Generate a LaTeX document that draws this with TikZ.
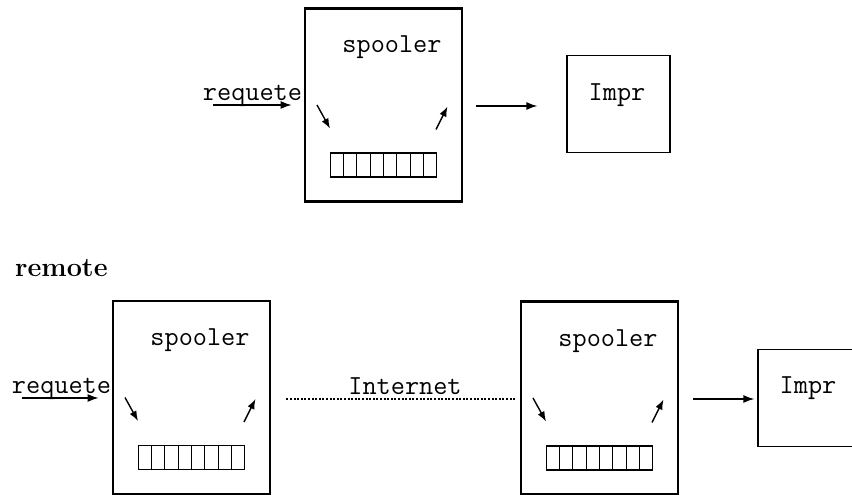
\documentclass[tikz,border=0pt]{standalone}
\usetikzlibrary{arrows.meta,calc}
\begin{document}
\begin{tikzpicture}[x=1pt,y=-1pt,
  spoolbox/.style={draw,line width=2.8pt,minimum width=157pt,minimum height=193pt,inner sep=0pt},
  imprbox/.style={draw,line width=1.3pt,minimum width=103pt,minimum height=97pt,inner sep=0pt},
  queuebox/.style={draw,line width=1.1pt,minimum width=106pt,minimum height=24pt,inner sep=0pt},
  tt/.style={font=\fontsize{27.5}{32}\selectfont\ttfamily,inner sep=0pt,anchor=base},
  arr/.style={line width=1.4pt,-{Latex[length=11pt,width=8pt]}},
  sarr/.style={line width=1.4pt,-{Latex[length=10pt,width=7.5pt]}}]
\useasboundingbox (0,0) rectangle (852,495);
\clip (0,0) rectangle (852,495);

% spooler boxes
\foreach \n/\x/\y in {A/383.5/105, B/191.5/397.5, C/599.5/398}{
  \node[spoolbox] (sp\n) at (\x,\y) {};
  \node[tt] (lbl\n) at (\x+8.5,\y-52) {spooler};
  \node[queuebox] (q\n) at (\x,\y+60) {};
  \foreach \i in {1,...,7}
    \draw[line width=1.1pt] ($(q\n.south west)!\i/8!(q\n.south east)$) -- ($(q\n.north west)!\i/8!(q\n.north east)$);
  \coordinate (d1\n) at (\x-66.5,\y);
  \coordinate (d2\n) at (\x-53.5,\y+23.5);
  \coordinate (u1\n) at (\x+52.5,\y+24.5);
  \coordinate (u2\n) at (\x+64,\y+1.5);
  \draw[sarr] (d1\n) -- (d2\n);
  \draw[sarr] (u1\n) -- (u2\n);
}

% printers
\node[imprbox] (imprA) at (618.5,104) {};
\node[tt] at (617,100.5) {Impr};
\node[imprbox] (imprB) at (809.5,398) {};
\node[tt] at (808,393) {Impr};

% requests
\node[tt] (reqA) at (252.5,101) {requete};
\coordinate (inA) at (213,105);
\draw[arr] (inA) -- (inA -| spA.west) [shorten >=12pt];
\node[tt] (reqB) at (61.5,393) {requete};
\coordinate (inB) at (22,398);
\draw[arr] (inB) -- (inB -| spB.west) [shorten >=13pt];

% to printers
\draw[arr,shorten <=13pt,shorten >=29pt] (spA.east |- 0,106) -- (imprA.west |- 0,106);
\draw[arr,shorten <=14pt,shorten >=3pt] (spC.east |- 0,399) -- (imprB.west |- 0,399);

% internet
\draw[line width=1.2pt,dash pattern=on 2pt off 1.6pt,shorten <=15pt,shorten >=3pt]
  (spB.east |- 0,399) -- (spC.west |- 0,399);
\node[tt] (net) at (405,394) {Internet};

% remote
\node[font=\fontsize{27}{31}\selectfont\bfseries,inner sep=0pt,anchor=base west] (remote) at (15,276) {remote};
\end{tikzpicture}
\end{document}
